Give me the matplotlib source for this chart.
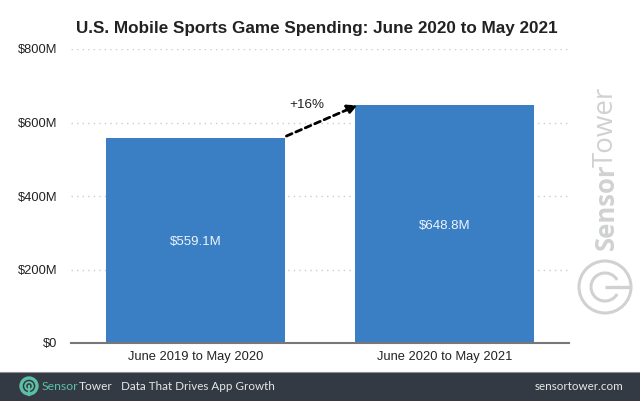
import matplotlib
matplotlib.use("Agg")
import matplotlib.pyplot as plt
from matplotlib.patches import Arc, Circle, Rectangle

periods = ["June 2019 to May 2020", "June 2020 to May 2021"]
spending = [559.1, 648.8]
bar_labels = ["$559.1M", "$648.8M"]
y_ticks = [0, 200, 400, 600, 800]
y_labels = ["$0", "$200M", "$400M", "$600M", "$800M"]

plt.rcParams["font.family"] = ["Liberation Sans", "DejaVu Sans"]

W, H = 640, 401
fig = plt.figure(figsize=(6.4, 4.01), dpi=100, facecolor="white")
ax = fig.add_axes([71 / W, (H - 343) / H, 498 / W, 294 / H])

ax.bar(range(2), spending, width=0.715, color="#3a7fc4", zorder=3)
for i, lab in enumerate(bar_labels):
    ax.text(i, spending[i] / 2 - 5, lab, ha="center", va="center", color="#eef4fa", fontsize=9.5, zorder=4)

ax.set_xlim(-0.5, 1.5)
ax.set_ylim(0, 800)
ax.set_xticks(range(2), periods)
ax.set_yticks(y_ticks, y_labels)
ax.tick_params(axis="both", length=0, labelsize=9.3, labelcolor="#222222")
ax.tick_params(axis="x", pad=6)
ax.tick_params(axis="y", pad=10)
ax.grid(axis="y", color="#cccccc", linestyle=(0, (1, 3)), linewidth=1, zorder=0)
for s in ["top", "right", "left"]:
    ax.spines[s].set_visible(False)
ax.spines["bottom"].set_color("#777777")
ax.spines["bottom"].set_linewidth(1.5)
ax.spines["bottom"].set_zorder(5)

# growth arrow between the two bars
ax.annotate("", xy=(0.65, spending[1] - 2), xytext=(0.365, spending[0] + 4), zorder=6,
            arrowprops=dict(arrowstyle="-|>", linestyle=(0, (2.2, 1.5)), color="black",
                            linewidth=2, mutation_scale=14, shrinkA=0, shrinkB=0))
ax.text(0.445, 648, "+16%", ha="center", va="center", fontsize=9.7, color="#222222")

fig.text(317 / W, 1 - 28 / H, "U.S. Mobile Sports Game Spending: June 2020 to May 2021",
         ha="center", va="center", fontsize=12.3, fontweight="bold", color="#222222")

# overlay in pixel coordinates for footer and branding
ov = fig.add_axes([0, 0, 1, 1], zorder=10)
ov.set_xlim(0, W)
ov.set_ylim(H, 0)
ov.axis("off")
ov.patch.set_alpha(0)

# watermark
wm = "#d0d2d2"
ov.text(606, 250, "Sensor", rotation=90, ha="center", va="bottom", fontsize=18.5, color=wm, fontweight="bold", family="Open Sans")
ov.text(606, 167, "Tower", rotation=90, ha="center", va="bottom", fontsize=20, color=wm, family="Open Sans")
ov.add_patch(Circle((605, 287), 26, fill=False, ec=wm, lw=2.2))
ov.add_patch(Arc((605, 287), 28, 28, theta1=30, theta2=330, ec=wm, lw=2.2))
ov.plot([605, 631], [287, 287], color=wm, lw=2.4, solid_capstyle="butt")

# footer
ov.add_patch(Rectangle((0, 372), W, 29, fc="#343a44", ec="none"))
ov.plot([0, W], [372, 372], color="#8d9095", lw=0.8)
teal = "#5cc0a5"
ov.add_patch(Circle((29, 386), 8, fill=False, ec=teal, lw=2.4))
ov.add_patch(Circle((29, 386), 3.8, fill=False, ec=teal, lw=1.4))
ov.plot([29, 29], [386, 395], color=teal, lw=1.6)
ov.text(42, 386, "Sensor", ha="left", va="center", fontsize=8.8, color=teal, family="Lato")
ov.text(79, 386, "Tower", ha="left", va="center", fontsize=8.6, color="#e6e8e8", family="Lato")
ov.text(121, 386, "Data That Drives App Growth", ha="left", va="center", fontsize=8.4, color="#e6e8e8", family="Lato")
ov.text(623, 386, "sensortower.com", ha="right", va="center", fontsize=8.4, color="#e6e8e8", family="Lato")

fig.savefig("out.png", dpi=100)
